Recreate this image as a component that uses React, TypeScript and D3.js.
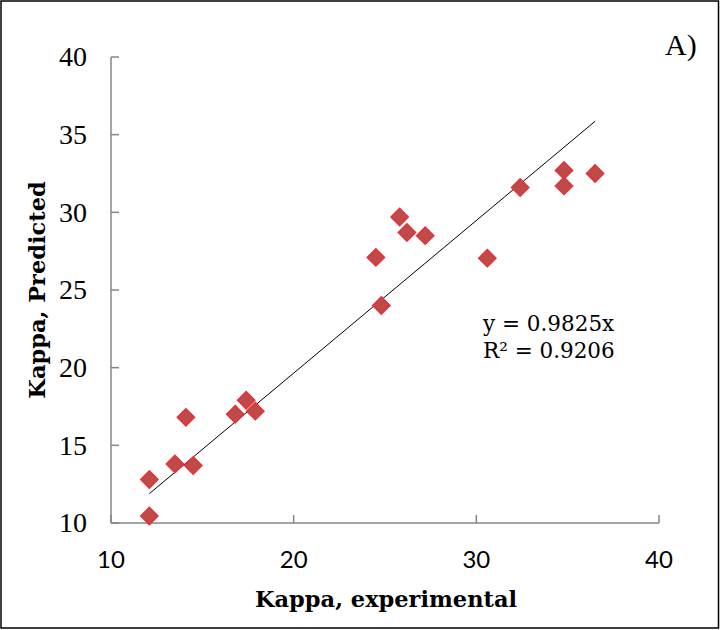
import React from "react";
import * as d3 from "d3";

const kappaExperimental = [12.1, 12.1, 13.5, 14.1, 14.5, 16.8, 17.4, 17.9, 24.5, 24.8, 25.8, 26.2, 27.2, 30.6, 32.4, 34.8, 34.8, 36.5];
const kappaPredicted = [10.45, 12.8, 13.8, 16.8, 13.7, 17.0, 17.9, 17.2, 27.1, 24.0, 29.7, 28.7, 28.5, 27.05, 31.6, 32.7, 31.7, 32.5];
const xTicks = [10, 20, 30, 40];
const yTicks = [10, 15, 20, 25, 30, 35, 40];
const slope = 0.9825;
const equationLines = ["y = 0.9825x", "R² = 0.9206"];

export default function App() {
  const W = 720, H = 630;
  const left = 111, right = 659, top = 57, bottom = 523;
  const x = d3.scaleLinear().domain([10, 40]).range([left, right]);
  const y = d3.scaleLinear().domain([10, 40]).range([bottom, top]);
  const xMin = d3.min(kappaExperimental)!;
  const xMax = d3.max(kappaExperimental)!;
  const line = d3.line<number>().x(d => x(d)).y(d => y(slope * d));
  const diamond = d3.symbol().type(d3.symbolDiamond2).size(190)()!;
  const axisColor = "#868686";
  return (
    <svg width={W} height={H} style={{ position: "absolute", left: 0, top: 0 }}>
      <rect x={1} y={1} width={W - 2.5} height={H - 3} fill="white" stroke="#000" strokeWidth={1.5} />
      {/* axes */}
      <line x1={left} x2={left} y1={top} y2={bottom} stroke={axisColor} strokeWidth={1.5} />
      <line x1={left} x2={right} y1={bottom} y2={bottom} stroke={axisColor} strokeWidth={1.5} />
      {yTicks.map(t => (
        <g key={"y" + t}>
          <line x1={left} x2={left + 8} y1={y(t)} y2={y(t)} stroke={axisColor} strokeWidth={1.5} />
          <text x={87} y={y(t)} dy="0.33em" textAnchor="end" fontFamily="Liberation Serif" fontSize={28} fill="#000">{t}</text>
        </g>
      ))}
      {xTicks.map(t => (
        <g key={"x" + t}>
          <line x1={x(t)} x2={x(t)} y1={bottom} y2={bottom - 8} stroke={axisColor} strokeWidth={1.5} />
          <text x={x(t)} y={568} textAnchor="middle" fontFamily="Lato" fontSize={24} fill="#000">{t}</text>
        </g>
      ))}
      {/* trend line */}
      <path d={line([xMin, xMax])!} stroke="#000" strokeWidth={1} fill="none" />
      {/* points */}
      {kappaExperimental.map((v, i) => (
        <path key={i} d={diamond} transform={`translate(${x(v)},${y(kappaPredicted[i])})`}
          fill="#BE4B48" stroke="#E4323C" strokeWidth={1.5} />
      ))}
      {/* equation */}
      {equationLines.map((s, i) => (
        <text key={s} x={483} y={331 + i * 27} fontFamily="DejaVu Serif" fontSize={21.5} fill="#000">{s}</text>
      ))}
      <text x={665} y={55} fontFamily="Liberation Serif" fontSize={30} fill="#000">A)</text>
      <text x={386} y={607} textAnchor="middle" fontFamily="DejaVu Serif" fontWeight="bold" fontSize={22.5} fill="#000">Kappa, experimental</text>
      <text transform="translate(45,290) rotate(-90)" textAnchor="middle" fontFamily="DejaVu Serif" fontWeight="bold" fontSize={22.5} fill="#000">Kappa, Predicted</text>
    </svg>
  );
}
